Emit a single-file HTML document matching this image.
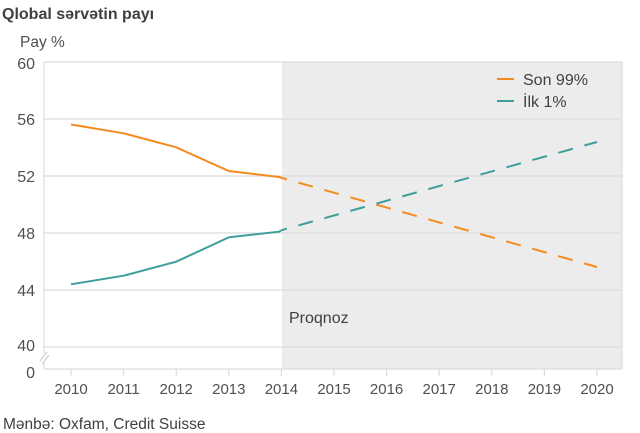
<!DOCTYPE html>
<html><head><meta charset="utf-8"><style>
html,body{margin:0;padding:0;background:#fff;}
svg{display:block;font-family:"Liberation Sans",Arial,sans-serif;}
</style></head><body>
<svg width="640" height="433" viewBox="0 0 640 433" xmlns="http://www.w3.org/2000/svg">
<rect x="0" y="0" width="640" height="433" fill="#fff"/>
<text x="2" y="19" font-size="16" font-weight="bold" fill="#404040">Qlobal sərvətin payı</text>
<text x="20" y="47" font-size="15.5" fill="#505050">Pay %</text>
<rect x="282" y="62" width="340" height="307" fill="#ececec"/>
<g stroke="#dcdcdc" stroke-width="1.2">
<line x1="44" y1="62" x2="622" y2="62"/>
<line x1="44" y1="119" x2="622" y2="119"/>
<line x1="44" y1="176" x2="622" y2="176"/>
<line x1="44" y1="233" x2="622" y2="233"/>
<line x1="44" y1="290" x2="622" y2="290"/>
<line x1="44" y1="347" x2="622" y2="347"/>
<line x1="44" y1="369" x2="622" y2="369"/>
<line x1="44" y1="62" x2="44" y2="353"/>
<line x1="44" y1="361" x2="44" y2="369"/>
<line x1="622" y1="62" x2="622" y2="369"/>
</g>
<g stroke="#cfcfcf" stroke-width="1.2">
<line x1="40" y1="361" x2="47" y2="352"/>
<line x1="42" y1="364" x2="49" y2="355"/>
</g>
<g stroke="#dcdcdc" stroke-width="1.2">
<line x1="71" y1="369" x2="71" y2="376"/>
<line x1="123.6" y1="369" x2="123.6" y2="376"/>
<line x1="176.2" y1="369" x2="176.2" y2="376"/>
<line x1="228.8" y1="369" x2="228.8" y2="376"/>
<line x1="281.4" y1="369" x2="281.4" y2="376"/>
<line x1="334" y1="369" x2="334" y2="376"/>
<line x1="386.6" y1="369" x2="386.6" y2="376"/>
<line x1="439.2" y1="369" x2="439.2" y2="376"/>
<line x1="491.8" y1="369" x2="491.8" y2="376"/>
<line x1="544.4" y1="369" x2="544.4" y2="376"/>
<line x1="597" y1="369" x2="597" y2="376"/>
</g>
<g font-size="16" fill="#505050" text-anchor="end">
<text x="35" y="69">60</text>
<text x="35" y="125">56</text>
<text x="35" y="182">52</text>
<text x="35" y="239">48</text>
<text x="35" y="296">44</text>
<text x="35" y="351">40</text>
<text x="35" y="378">0</text>
</g>
<g font-size="15" fill="#505050" text-anchor="middle">
<text x="71" y="394">2010</text>
<text x="123.6" y="394">2011</text>
<text x="176.2" y="394">2012</text>
<text x="228.8" y="394">2013</text>
<text x="281.4" y="394">2014</text>
<text x="334" y="394">2015</text>
<text x="386.6" y="394">2016</text>
<text x="439.2" y="394">2017</text>
<text x="491.8" y="394">2018</text>
<text x="544.4" y="394">2019</text>
<text x="597" y="394">2020</text>
</g>
<text x="289" y="323" font-size="16" fill="#404040">Proqnoz</text>
<polyline points="71,124.5 123.6,133.3 176.2,147.3 228.8,171 279,177 282,178" fill="none" stroke="#f58a1f" stroke-width="2"/>
<line x1="282" y1="178" x2="597" y2="267" stroke="#f58a1f" stroke-width="2" stroke-dasharray="15 12" stroke-dashoffset="10"/>
<polyline points="71,284.3 123.6,275.7 176.2,261.7 228.8,237.3 279,231.7 282,230" fill="none" stroke="#3e9e9a" stroke-width="2"/>
<line x1="282" y1="230" x2="597" y2="142" stroke="#3e9e9a" stroke-width="2" stroke-dasharray="15 12" stroke-dashoffset="10"/>
<line x1="497" y1="79" x2="514" y2="79" stroke="#f58a1f" stroke-width="2"/>
<text x="523" y="85" font-size="16" fill="#404040">Son 99%</text>
<line x1="497" y1="101" x2="514" y2="101" stroke="#3e9e9a" stroke-width="2"/>
<text x="523" y="107" font-size="16" fill="#404040">İlk 1%</text>
<text x="3" y="429" font-size="15.5" fill="#404040">Mənbə: Oxfam, Credit Suisse</text>
</svg>
</body></html>
